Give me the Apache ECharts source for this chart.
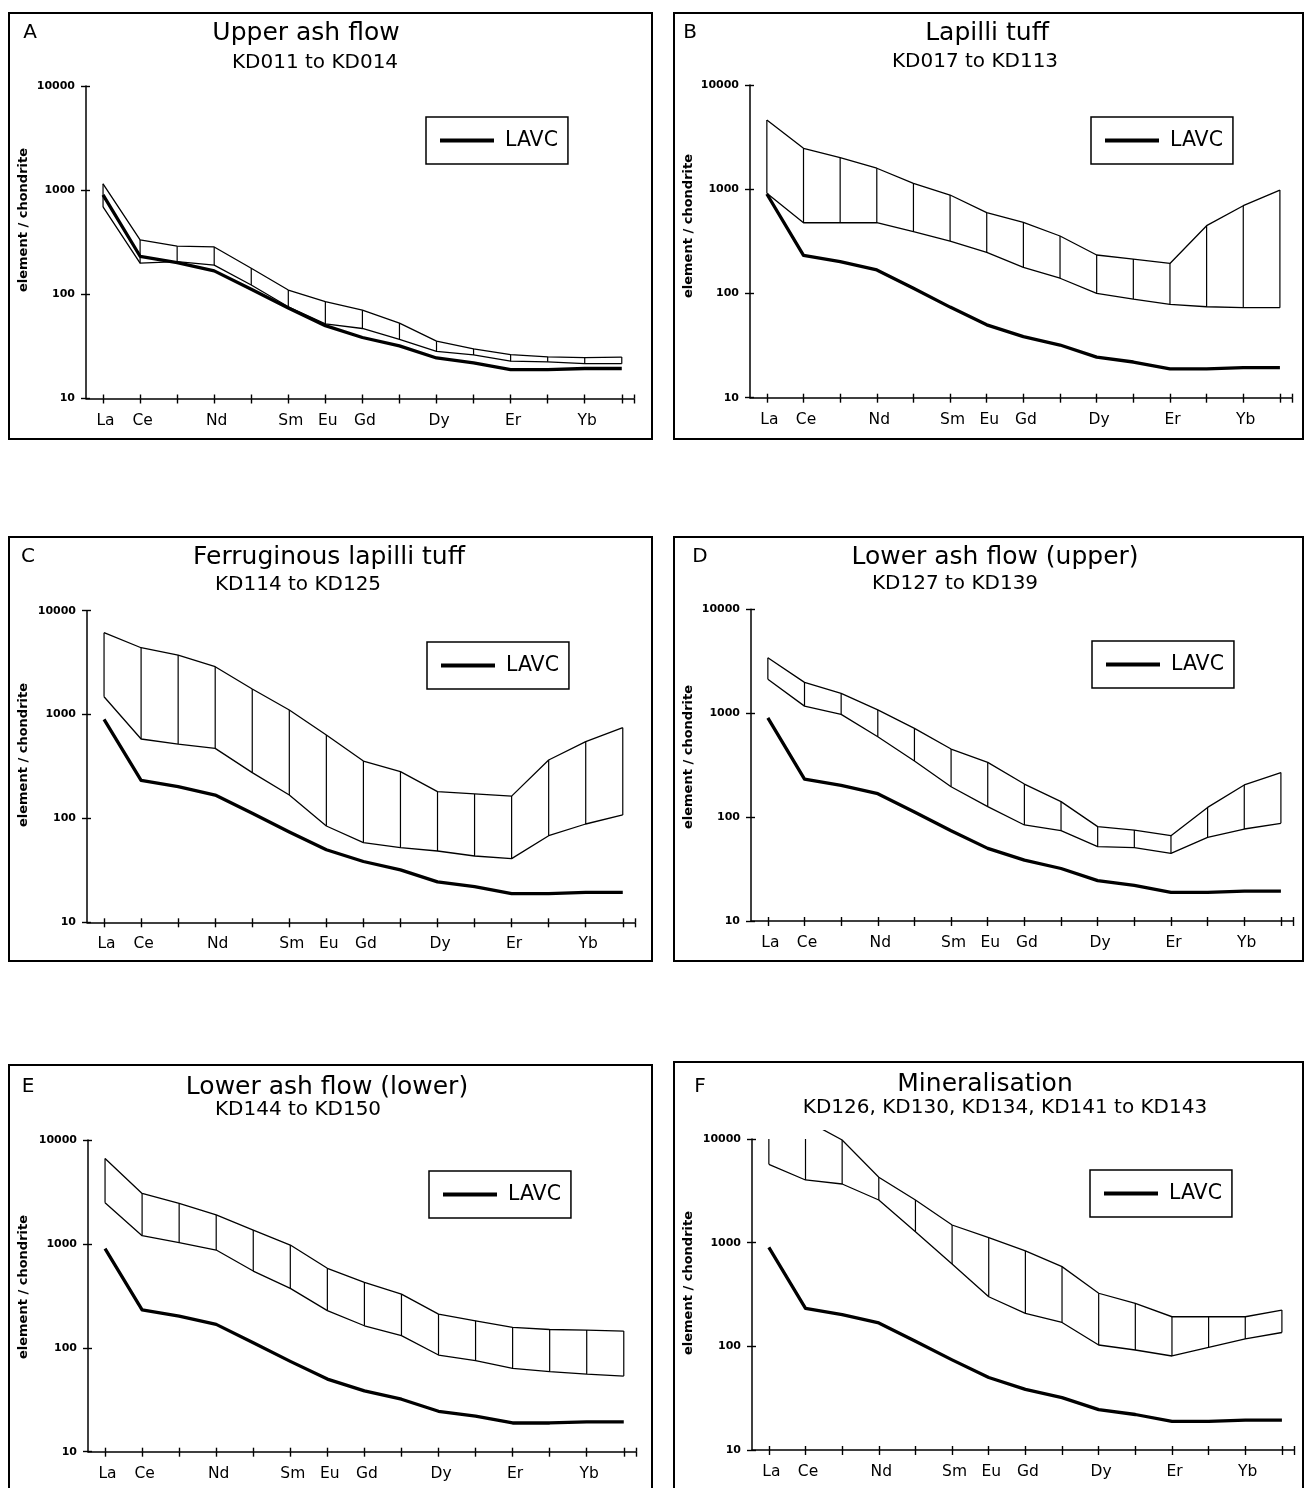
<!DOCTYPE html>
<html>
<head>
<meta charset="utf-8">
<script src="https://cdn.jsdelivr.net/npm/echarts@6/dist/echarts.min.js"></script>
<style>
  html, body { margin: 0; padding: 0; background: #fff; }
  #chart { width: 1304px; height: 1488px; }
</style>
</head>
<body>
<div id="chart"></div>
<script>
// Chondrite-normalised REE patterns: shaded envelope per unit, LAVC reference line.

const ELEMENTS = ['La', 'Ce', 'Pr', 'Nd', 'Pm', 'Sm', 'Eu', 'Gd', 'Tb', 'Dy', 'Ho', 'Er', 'Tm', 'Yb', 'Lu'];
const LABELLED_ELEMENTS = ['La', 'Ce', 'Nd', 'Sm', 'Eu', 'Gd', 'Dy', 'Er', 'Yb'];
const Y_TICKS = [10, 100, 1000, 10000];

// reference curve, repeated on every panel
const LAVC = [900, 232, 202, 168, 112, 74, 50, 38.5, 32, 24.5, 22, 18.9, 18.9, 19.4, 19.4];

// envelope limits per unit (max / min of the sample group)
const A_MAX = [1150, 333, 290, 285, 178, 110, 85, 70.5, 53, 35.5, 30, 26.4, 25.1, 24.7, 25];
const A_MIN = [690, 199, 206, 191, 123, 76, 52, 47, 37, 28.4, 26.2, 22.8, 22.5, 21.6, 21.6];

const B_MAX = [4610, 2470, 2010, 1590, 1140, 880, 596, 481, 356, 234, 214, 194, 447, 695, 982];
const B_MIN = [913, 477, 477, 477, 391, 318, 248, 178, 140, 100, 88.4, 78.6, 74.6, 73, 73];

const C_MAX = [6140, 4400, 3740, 2890, 1762, 1106, 635, 357, 282, 181, 172, 164, 365, 548, 748];
const C_MIN = [1485, 582, 520, 473, 276, 168, 84.5, 58.4, 52.3, 48.6, 43.5, 41, 68.2, 88.4, 108];

const D_MAX = [3420, 1980, 1550, 1075, 715, 452, 336, 208, 141, 81, 75, 66.3, 124, 204, 268];
const D_MIN = [2120, 1170, 975, 594, 347, 196, 126, 84, 74, 51.9, 50.8, 44.8, 63.8, 76.8, 87.1];

const E_MAX = [6650, 3060, 2450, 1900, 1360, 975, 582, 426, 329, 211, 182, 157, 150, 148, 145];
const E_MIN = [2490, 1200, 1027, 873, 548, 373, 228, 163, 131, 85.2, 75.1, 63.4, 58.9, 55.9, 53.5];

const F_MAX = [20000, 15200, 9780, 4270, 2580, 1480, 1117, 832, 587, 325, 260, 193, 193, 193, 224];
const F_MIN = [5700, 4025, 3680, 2580, 1277, 622, 301, 208, 170, 103, 92.2, 80.7, 97.8, 118, 136];

const PANEL_LETTERS = ['A', 'B', 'C', 'D', 'E', 'F'];
const PANEL_TITLES = ['Upper ash flow', 'Lapilli tuff', 'Ferruginous lapilli tuff',
  'Lower ash flow (upper)', 'Lower ash flow (lower)', 'Mineralisation'];
const PANEL_SUBTITLES = ['KD011 to KD014', 'KD017 to KD113', 'KD114 to KD125',
  'KD127 to KD139', 'KD144 to KD150', 'KD126, KD130, KD134, KD141 to KD143'];
const ENVELOPE_MAX = [A_MAX, B_MAX, C_MAX, D_MAX, E_MAX, F_MAX];
const ENVELOPE_MIN = [A_MIN, B_MIN, C_MIN, D_MIN, E_MIN, F_MIN];
const Y_NAME = 'element / chondrite';
const LEGEND_NAME = 'LAVC';

// ---- page layout (pixels) ----
const X_MIN = 0.54, X_MAX = 15.33;
const LAYOUT = [
  { grid: [86, 86, 548, 312.5],    frame: [9, 13, 643, 426],    letter: [30, 33],   title: [306, 33],   sub: [315, 63],   legend: [426, 117],  yName: [24, 220],   overshoot: 0 },
  { grid: [750, 85, 542, 312.7],   frame: [674, 13, 629, 426],  letter: [690, 33],  title: [987, 33],   sub: [975, 62],   legend: [1091, 117], yName: [689, 226],  overshoot: 0 },
  { grid: [87, 610.7, 548, 311.6], frame: [9, 537, 643, 424],   letter: [28, 557],  title: [329, 557],  sub: [298, 585],  legend: [427, 642],  yName: [24, 755],   overshoot: 0 },
  { grid: [751, 609.3, 542, 311.7],frame: [674, 537, 629, 424], letter: [700, 557], title: [995, 557],  sub: [955, 584],  legend: [1092, 641], yName: [689, 757],  overshoot: 0 },
  { grid: [88, 1140, 548, 311.7],  frame: [9, 1065, 643, 440],  letter: [28, 1087], title: [327, 1087], sub: [298, 1110], legend: [429, 1171], yName: [24, 1287],  overshoot: 0 },
  { grid: [752, 1139, 542, 311],   frame: [674, 1062, 629, 440],letter: [700, 1087],title: [985, 1084], sub: [1005, 1108],legend: [1090, 1170],yName: [689, 1283], overshoot: 9 }
];

const FONT = '"DejaVu Sans", "Liberation Sans", sans-serif';
const INK = '#000';

const tickValues = ELEMENTS.map((e, k) => k + 1).concat([X_MAX]);
const labelValues = LABELLED_ELEMENTS.map(e => ELEMENTS.indexOf(e) + 1);

const grids = [], xAxes = [], yAxes = [], series = [], legends = [], graphics = [];

function textEl(x, y, text, font, rotation) {
  return {
    type: 'text', x: x, y: y, rotation: rotation || 0, silent: true,
    style: {
      text: text, font: font, fill: INK,
      align: 'center', verticalAlign: 'middle',
      textAlign: 'center', textVerticalAlign: 'middle'
    }
  };
}

LAYOUT.forEach((L, i) => {
  const [gl, gt, gw, gh] = L.grid;
  grids.push({ left: gl, top: gt, width: gw, height: gh, containLabel: false });

  // x axis: outward ticks + labels, then an overlay with inward ticks
  const xBase = {
    type: 'value', gridIndex: i, min: X_MIN, max: X_MAX, position: 'bottom', offset: 0,
    axisLine: { show: true, onZero: false, lineStyle: { color: INK, width: 1.5 } },
    splitLine: { show: false }
  };
  xAxes.push(Object.assign({}, xBase, {
    axisTick: { show: true, length: 5, customValues: tickValues, lineStyle: { color: INK, width: 1.4 } },
    axisLabel: {
      show: true, customValues: labelValues, margin: 14,
      formatter: v => ELEMENTS[Math.round(v) - 1],
      color: INK, fontFamily: FONT, fontSize: 15.5, padding: [0, 0, 0, 5]
    }
  }));
  xAxes.push(Object.assign({}, xBase, {
    axisLine: { show: false, onZero: false },
    axisTick: { show: true, inside: true, length: 4, customValues: tickValues, lineStyle: { color: INK, width: 1.4 } },
    axisLabel: { show: false }
  }));

  // y axis (log): outward ticks + labels, then an overlay with inward ticks
  const yBase = {
    type: 'log', logBase: 10, gridIndex: i, min: 10, max: 10000, position: 'left', offset: 0,
    axisLine: { show: true, onZero: false, lineStyle: { color: INK, width: 1.5 } },
    splitLine: { show: false }, minorTick: { show: false }
  };
  yAxes.push(Object.assign({}, yBase, {
    axisTick: { show: true, length: 5, customValues: Y_TICKS, lineStyle: { color: INK, width: 1.4 } },
    axisLabel: {
      show: true, customValues: Y_TICKS, margin: 11,
      formatter: v => String(Math.round(v)),
      color: INK, fontFamily: FONT, fontSize: 11, fontWeight: 'bold'
    }
  }));
  yAxes.push(Object.assign({}, yBase, {
    axisLine: { show: false, onZero: false },
    axisTick: { show: true, inside: true, length: 4, customValues: Y_TICKS, lineStyle: { color: INK, width: 1.4 } },
    axisLabel: { show: false }
  }));

  const xi = 2 * i, yi = 2 * i;
  const upper = ENVELOPE_MAX[i], lower = ENVELOPE_MIN[i];

  // vertical rules joining the envelope limits at each element
  series.push({
    type: 'custom', name: PANEL_LETTERS[i] + ' range', xAxisIndex: xi, yAxisIndex: yi,
    clip: true, silent: true, z: 2,
    dimensions: ['x', 'min', 'max'],
    encode: { x: 0, y: [1, 2] },
    data: ELEMENTS.map((e, k) => [k + 1, lower[k], upper[k]]),
    renderItem: (params, api) => {
      const a = api.coord([api.value(0), api.value(1)]);
      const b = api.coord([api.value(0), api.value(2)]);
      return {
        type: 'line',
        shape: { x1: a[0], y1: a[1], x2: b[0], y2: b[1] },
        style: { stroke: INK, lineWidth: 1.2 }
      };
    }
  });

  // envelope limits
  [[upper, 'max'], [lower, 'min']].forEach(([vals, tag]) => {
    if (tag === 'max' && L.overshoot > 0) {
      // upper limit may run slightly past the top of the frame before being cut
      series.push({
        type: 'custom', name: PANEL_LETTERS[i] + ' ' + tag, xAxisIndex: xi, yAxisIndex: yi,
        clip: false, silent: true, z: 2,
        dimensions: ['x', 'y'], encode: { x: 0, y: 1 },
        data: vals.map((v, k) => [k + 1, v]),
        renderItem: (params, api) => {
          if (params.dataIndex !== 0) return null;
          const cs = params.coordSys;
          const pts = vals.map((v, k) => api.coord([k + 1, v]));
          return {
            type: 'polyline',
            shape: { points: pts },
            style: { stroke: INK, fill: 'none', lineWidth: 1.3 },
            clipPath: {
              type: 'rect',
              shape: { x: cs.x - 2, y: cs.y - L.overshoot, width: cs.width + 4, height: cs.height + L.overshoot }
            }
          };
        }
      });
    } else {
      series.push({
        type: 'line', name: PANEL_LETTERS[i] + ' ' + tag, xAxisIndex: xi, yAxisIndex: yi,
        data: vals.map((v, k) => [k + 1, v]),
        symbol: 'none', silent: true, clip: true, z: 2,
        lineStyle: { color: INK, width: 1.3 }
      });
    }
  });

  // reference line
  series.push({
    type: 'line', name: LEGEND_NAME, xAxisIndex: xi, yAxisIndex: yi,
    data: LAVC.map((v, k) => [k + 1, v]),
    symbol: 'none', silent: true, z: 3,
    lineStyle: { color: INK, width: 3.3, join: 'round' },
    itemStyle: { color: INK }
  });

  legends.push({
    data: [LEGEND_NAME], left: L.legend[0], top: L.legend[1],
    selectedMode: false, icon: 'rect', itemWidth: 54, itemHeight: 4,
    itemStyle: { color: INK, borderWidth: 0 },
    borderColor: INK, borderWidth: 1.5, backgroundColor: '#fff',
    padding: [13, 10, 13, 14],
    textStyle: { color: INK, fontFamily: FONT, fontSize: 20.5, padding: [0, 0, 0, 6] }
  });

  // frame and texts
  graphics.push({
    type: 'rect', silent: true, z: 0,
    shape: { x: L.frame[0], y: L.frame[1], width: L.frame[2], height: L.frame[3] },
    style: { fill: 'none', stroke: INK, lineWidth: 2 }
  });
  graphics.push(textEl(L.letter[0], L.letter[1], PANEL_LETTERS[i], '20px ' + FONT));
  graphics.push(textEl(L.title[0], L.title[1], PANEL_TITLES[i], '25px ' + FONT));
  graphics.push(textEl(L.sub[0], L.sub[1], PANEL_SUBTITLES[i], '20px ' + FONT));
  graphics.push(textEl(L.yName[0], L.yName[1], Y_NAME, 'bold 13px ' + FONT, Math.PI / 2));
});

const chart = echarts.init(document.getElementById('chart'), null, { renderer: 'canvas' });
chart.setOption({
  backgroundColor: '#fff',
  animation: false,
  grid: grids,
  xAxis: xAxes,
  yAxis: yAxes,
  legend: legends,
  series: series,
  graphic: { elements: graphics }
});
</script>
</body>
</html>
